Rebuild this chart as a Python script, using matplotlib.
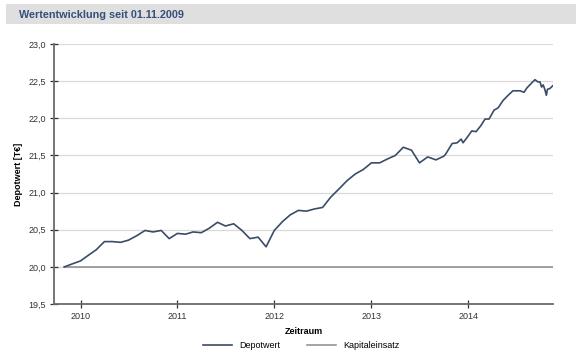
import matplotlib
matplotlib.use("Agg")
import matplotlib.pyplot as plt
from matplotlib.patches import Rectangle
import pandas as pd

plt.rcParams['font.family'] = ['Liberation Sans', 'DejaVu Sans']

title = "Wertentwicklung seit 01.11.2009"
y_label = "Depotwert [T€]"
x_label = "Zeitraum"
series_names = ["Depotwert", "Kapitaleinsatz"]

depot_dates = [
    "2009-11-01", "2009-12-01", "2010-01-01", "2010-02-01", "2010-03-01", "2010-04-01",
    "2010-05-01", "2010-06-01", "2010-07-01", "2010-08-01", "2010-09-01", "2010-10-01",
    "2010-11-01", "2010-12-01", "2011-01-01", "2011-02-01", "2011-03-01", "2011-04-01",
    "2011-05-01", "2011-06-01", "2011-07-01", "2011-08-01", "2011-09-01", "2011-10-01",
    "2011-11-01", "2011-12-01", "2012-01-01", "2012-02-01", "2012-03-01", "2012-04-01",
    "2012-05-01", "2012-06-01", "2012-07-01", "2012-08-01", "2012-09-01", "2012-10-01",
    "2012-11-01", "2012-12-01", "2013-01-01", "2013-02-01", "2013-03-01", "2013-04-01",
    "2013-05-01", "2013-06-01", "2013-07-01", "2013-08-01", "2013-09-01", "2013-10-01",
    "2013-10-08", "2013-11-01", "2013-11-20", "2013-12-05", "2013-12-12", "2013-12-27",
    "2014-01-14", "2014-01-30", "2014-02-17", "2014-03-05", "2014-03-20", "2014-04-08",
    "2014-04-23", "2014-05-12", "2014-05-31", "2014-06-18", "2014-07-15", "2014-07-30",
    "2014-08-10", "2014-08-29", "2014-09-09", "2014-09-20", "2014-09-28", "2014-10-04",
    "2014-10-10", "2014-10-16", "2014-10-22", "2014-10-26", "2014-11-04", "2014-11-16",
]
depot_values = [
    20.00, 20.04, 20.08, 20.16, 20.23, 20.34,
    20.34, 20.33, 20.36, 20.42, 20.49, 20.47,
    20.49, 20.38, 20.45, 20.44, 20.47, 20.46,
    20.52, 20.60, 20.55, 20.58, 20.49, 20.38,
    20.40, 20.27, 20.49, 20.61, 20.70, 20.76,
    20.75, 20.78, 20.80, 20.94, 21.05, 21.16,
    21.25, 21.31, 21.40, 21.40, 21.45, 21.50,
    21.61, 21.57, 21.40, 21.48, 21.44, 21.49,
    21.52, 21.66, 21.67, 21.72, 21.67, 21.74,
    21.83, 21.82, 21.90, 21.99, 21.99, 22.11,
    22.14, 22.24, 22.31, 22.37, 22.37, 22.35,
    22.41, 22.48, 22.52, 22.49, 22.49, 22.42,
    22.45, 22.39, 22.31, 22.39, 22.40, 22.44,
]
kap_dates = ["2009-11-01", "2014-11-16"]
kap_values = [20.0, 20.0]

y_ticks = [19.5, 20.0, 20.5, 21.0, 21.5, 22.0, 22.5, 23.0]
x_tick_years = ["2010", "2011", "2012", "2013", "2014"]

W, H = 584, 356
fig = plt.figure(figsize=(W / 100, H / 100), dpi=100)
fig.patch.set_facecolor("white")

# header band
fig.patches.append(Rectangle((6 / W, 1 - 24 / H), 570 / W, 20 / H,
                             transform=fig.transFigure, facecolor="#e0dfdf",
                             edgecolor="none", zorder=0))
fig.text(19 / W, 1 - 14.5 / H, title, fontsize=7.8, fontweight="bold",
         color="#34507a", va="center", ha="left")

ax = fig.add_axes([54 / W, 1 - 304 / H, (553 - 54) / W, (304 - 44) / H])

d_dates = pd.to_datetime(depot_dates)
k_dates = pd.to_datetime(kap_dates)

ax.plot(k_dates, kap_values, color="#8a8a8a", lw=1.1, zorder=3,
        label=series_names[1])
ax.plot(d_dates, depot_values, color="#3a4d66", lw=1.2, zorder=4,
        label=series_names[0])

ax.set_ylim(19.5, 23.0)
ax.set_yticks(y_ticks)
ax.set_yticklabels([f"{v:.1f}".replace(".", ",") for v in y_ticks])
ax.set_xlim(pd.Timestamp("2009-09-23"), pd.Timestamp("2014-11-16"))
ax.set_xticks(pd.to_datetime([y + "-01-01" for y in x_tick_years]))
ax.set_xticklabels(x_tick_years)

ax.grid(axis="y", color="#d9d9d9", lw=0.9)
ax.set_axisbelow(True)
for s in ["top", "right"]:
    ax.spines[s].set_visible(False)
for s in ["left", "bottom"]:
    ax.spines[s].set_color("#6a6a6a")
    ax.spines[s].set_linewidth(1.3)

ax.tick_params(axis="y", direction="inout", length=6, width=0.9,
               colors="#333333", labelsize=6.5, pad=3)
ax.tick_params(axis="x", direction="inout", length=6, width=0.9,
               colors="#333333", labelsize=6.5, pad=3)

ax.set_ylabel(y_label, fontsize=6.5, fontweight="bold", labelpad=4)
ax.set_xlabel(x_label, fontsize=6.5, fontweight="bold", labelpad=4)

h, l = ax.get_legend_handles_labels()
order = [1, 0]
leg = fig.legend([h[i] for i in order], [l[i] for i in order],
                 loc="center", bbox_to_anchor=(301 / W, 1 - 346 / H), ncol=2,
                 frameon=False, fontsize=6.5, handlelength=3.2,
                 columnspacing=3.0, handletextpad=0.8)

fig.savefig("out.png", dpi=100)
